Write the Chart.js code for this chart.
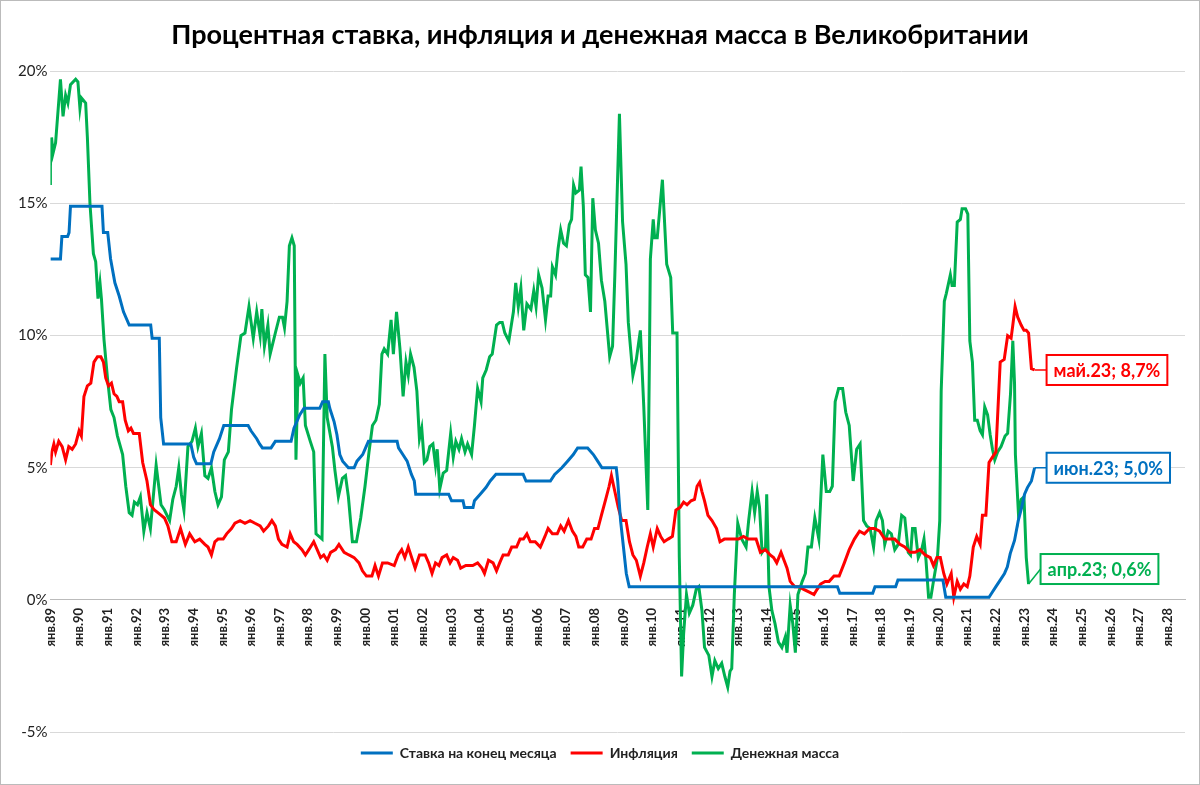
<!DOCTYPE html>
<html><head><meta charset="utf-8">
<script src="https://cdn.jsdelivr.net/npm/chart.js@4/dist/chart.umd.min.js"></script>
<style>html,body{margin:0;padding:0;background:#fff}#wrap{width:1200px;height:785px;box-sizing:border-box;border:1px solid #bbb}</style>
</head><body><div id="wrap"><canvas id="c" width="1198" height="783"></canvas></div>
<script>
const TITLE = 'Процентная ставка, инфляция и денежная масса в Великобритании';
const SERIES_NAMES = ['Ставка на конец месяца', 'Инфляция', 'Денежная масса'];
const END_LABELS = ['июн.23; 5,0%', 'май.23; 8,7%', 'апр.23; 0,6%'];
const TICK_YEARS = [];
for (let y = 1989; y <= 2028; y++) TICK_YEARS.push(y);

// Bank rate [year, %]
const ratePts = [[1989.0,12.9],[1989.35,12.9],[1989.4,13.75],[1989.6,13.75],[1989.65,13.9],[1989.7,14.9],[1990.8,14.9],[1990.85,13.9],[1991.0,13.9],[1991.1,12.9],[1991.25,12.0],[1991.4,11.5],[1991.55,10.9],[1991.75,10.4],[1992.5,10.4],[1992.55,9.9],[1992.8,9.9],[1992.85,6.9],[1992.95,5.9],[1993.9,5.9],[1994.0,5.4],[1994.1,5.15],[1994.6,5.15],[1994.7,5.6],[1994.9,6.1],[1995.05,6.6],[1995.9,6.6],[1996.0,6.4],[1996.2,6.1],[1996.3,5.9],[1996.4,5.75],[1996.7,5.75],[1996.85,6.0],[1997.4,6.0],[1997.5,6.5],[1997.7,7.0],[1997.85,7.25],[1998.4,7.25],[1998.5,7.5],[1998.7,7.5],[1998.75,7.25],[1998.9,6.75],[1999.0,6.25],[1999.1,5.5],[1999.2,5.25],[1999.4,5.0],[1999.6,5.0],[1999.7,5.25],[1999.9,5.5],[2000.0,5.75],[2000.1,6.0],[2001.1,6.0],[2001.15,5.75],[2001.3,5.5],[2001.45,5.25],[2001.6,4.75],[2001.7,4.5],[2001.75,4.0],[2002.9,4.0],[2003.0,3.75],[2003.4,3.75],[2003.45,3.5],[2003.75,3.5],[2003.8,3.75],[2004.0,4.0],[2004.2,4.25],[2004.35,4.5],[2004.55,4.75],[2005.5,4.75],[2005.6,4.5],[2006.45,4.5],[2006.6,4.75],[2006.85,5.0],[2007.05,5.25],[2007.25,5.5],[2007.4,5.75],[2007.75,5.75],[2007.95,5.5],[2008.1,5.25],[2008.25,5.0],[2008.75,5.0],[2008.8,4.5],[2008.9,3.0],[2009.0,2.0],[2009.1,1.0],[2009.2,0.5],[2016.47,0.5],[2016.55,0.25],[2017.7,0.25],[2017.78,0.5],[2018.5,0.5],[2018.58,0.75],[2020.15,0.75],[2020.25,0.1],[2021.76,0.1],[2021.85,0.25],[2022.0,0.5],[2022.15,0.75],[2022.3,1.0],[2022.4,1.25],[2022.5,1.75],[2022.65,2.25],[2022.78,3.0],[2022.9,3.5],[2023.0,4.0],[2023.1,4.25],[2023.24,4.5],[2023.35,5.0]];

// CPI inflation [year, %]
const inflPts = [[1989.0,5.1],[1989.05,5.6],[1989.12,5.9],[1989.18,5.6],[1989.29,6.0],[1989.41,5.8],[1989.53,5.3],[1989.64,5.8],[1989.76,5.7],[1989.88,5.9],[1990.0,6.4],[1990.08,6.2],[1990.17,7.7],[1990.29,8.1],[1990.41,8.2],[1990.52,9.0],[1990.64,9.2],[1990.76,9.2],[1990.85,9.0],[1990.93,8.4],[1991.03,8.1],[1991.13,8.2],[1991.22,7.8],[1991.32,7.7],[1991.40,7.5],[1991.52,7.5],[1991.61,6.8],[1991.72,6.4],[1991.81,6.5],[1991.90,6.3],[1992.10,6.3],[1992.22,5.2],[1992.37,4.5],[1992.49,3.6],[1992.63,3.4],[1992.75,3.3],[1992.98,3.1],[1993.10,2.8],[1993.24,2.2],[1993.39,2.2],[1993.54,2.7],[1993.71,2.1],[1993.86,2.5],[1994.04,2.2],[1994.21,2.3],[1994.39,2.1],[1994.50,2.0],[1994.62,1.7],[1994.74,2.2],[1994.85,2.3],[1995.03,2.3],[1995.15,2.5],[1995.32,2.7],[1995.44,2.9],[1995.62,3.0],[1995.79,2.9],[1995.97,3.0],[1996.14,2.9],[1996.32,2.8],[1996.44,2.6],[1996.61,2.8],[1996.73,3.0],[1996.85,2.8],[1996.96,2.3],[1997.08,2.1],[1997.26,2.0],[1997.37,2.5],[1997.49,2.2],[1997.61,2.1],[1997.78,1.9],[1997.90,1.7],[1998.02,1.9],[1998.19,2.2],[1998.31,1.9],[1998.43,1.6],[1998.54,1.7],[1998.66,1.5],[1998.78,1.8],[1998.95,1.9],[1999.07,2.1],[1999.25,1.8],[1999.42,1.7],[1999.60,1.6],[1999.77,1.4],[1999.89,1.1],[2000.03,0.9],[2000.22,0.9],[2000.33,1.3],[2000.45,0.9],[2000.59,1.4],[2000.77,1.4],[2001.0,1.3],[2001.14,1.7],[2001.26,1.9],[2001.37,1.6],[2001.49,2.0],[2001.61,1.6],[2001.73,1.2],[2001.88,1.7],[2002.08,1.7],[2002.20,1.4],[2002.32,1.0],[2002.44,1.4],[2002.56,1.3],[2002.67,1.6],[2002.83,1.7],[2002.95,1.4],[2003.06,1.6],[2003.21,1.5],[2003.32,1.2],[2003.50,1.3],[2003.74,1.3],[2003.91,1.4],[2004.06,1.2],[2004.15,1.0],[2004.29,1.5],[2004.45,1.4],[2004.57,1.1],[2004.68,1.4],[2004.80,1.7],[2004.98,1.7],[2005.10,2.0],[2005.27,2.0],[2005.39,2.3],[2005.51,2.3],[2005.63,2.5],[2005.75,2.2],[2005.92,2.2],[2006.10,2.0],[2006.26,2.4],[2006.37,2.7],[2006.52,2.5],[2006.69,2.5],[2006.81,2.8],[2006.93,2.6],[2007.08,3.0],[2007.22,2.6],[2007.34,2.4],[2007.44,2.0],[2007.58,2.0],[2007.72,2.3],[2007.87,2.3],[2007.99,2.7],[2008.11,2.7],[2008.23,3.2],[2008.38,3.8],[2008.50,4.3],[2008.58,4.7],[2008.70,4.1],[2008.82,3.5],[2008.94,3.0],[2009.09,3.0],[2009.21,2.2],[2009.33,1.7],[2009.45,1.5],[2009.59,0.9],[2009.71,1.4],[2009.83,2.0],[2009.94,2.5],[2010.04,2.0],[2010.18,2.7],[2010.30,2.4],[2010.42,2.2],[2010.56,2.3],[2010.71,2.4],[2010.83,3.4],[2010.98,3.5],[2011.10,3.7],[2011.22,3.6],[2011.36,3.75],[2011.48,3.8],[2011.57,4.3],[2011.66,4.45],[2011.74,4.1],[2011.83,3.75],[2011.95,3.2],[2012.09,3.0],[2012.25,2.7],[2012.37,2.2],[2012.52,2.3],[2012.66,2.3],[2012.84,2.3],[2013.02,2.3],[2013.19,2.4],[2013.35,2.3],[2013.49,2.3],[2013.63,2.3],[2013.78,1.8],[2013.96,1.9],[2014.12,1.7],[2014.24,1.6],[2014.35,1.4],[2014.50,1.8],[2014.71,1.2],[2014.82,0.7],[2014.98,0.5],[2015.12,0.5],[2015.29,0.4],[2015.47,0.3],[2015.65,0.2],[2015.76,0.4],[2015.88,0.6],[2016.04,0.7],[2016.18,0.7],[2016.35,0.9],[2016.53,0.9],[2016.71,1.4],[2016.88,1.9],[2017.06,2.3],[2017.24,2.6],[2017.41,2.5],[2017.59,2.7],[2017.76,2.7],[2017.94,2.6],[2018.12,2.3],[2018.29,2.3],[2018.47,2.3],[2018.65,2.1],[2018.82,2.0],[2019.0,1.8],[2019.18,1.8],[2019.35,1.9],[2019.53,1.7],[2019.71,1.6],[2019.82,1.3],[2019.94,1.6],[2020.06,1.6],[2020.18,1.0],[2020.29,0.6],[2020.44,1.0],[2020.53,0.1],[2020.65,0.7],[2020.76,0.4],[2020.88,0.6],[2021.0,0.5],[2021.09,0.9],[2021.21,2.0],[2021.33,2.4],[2021.45,2.1],[2021.53,3.2],[2021.65,3.2],[2021.76,5.2],[2021.88,5.4],[2022.0,5.6],[2022.15,9.0],[2022.29,9.1],[2022.41,10.0],[2022.53,9.9],[2022.59,10.4],[2022.67,11.1],[2022.76,10.7],[2022.88,10.4],[2022.98,10.2],[2023.06,10.2],[2023.14,10.1],[2023.24,8.75],[2023.35,8.7]];

// Money supply growth [year, %]
const moneyPts = [[1989.0,15.7],[1989.0,16.4],[1989.04,17.5],[1989.09,16.9],[1989.18,17.3],[1989.35,19.7],[1989.44,18.3],[1989.53,19.1],[1989.61,18.8],[1989.70,19.5],[1989.88,19.7],[1989.96,19.6],[1990.03,18.6],[1990.08,19.0],[1990.23,18.8],[1990.29,17.5],[1990.38,15.0],[1990.50,13.1],[1990.58,12.8],[1990.66,11.4],[1990.73,12.0],[1990.78,11.4],[1990.87,9.85],[1990.99,8.4],[1991.11,7.2],[1991.22,6.9],[1991.34,6.2],[1991.52,5.5],[1991.63,4.3],[1991.75,3.3],[1991.85,3.2],[1991.93,3.7],[1992.04,3.6],[1992.14,3.9],[1992.26,2.6],[1992.37,3.3],[1992.49,2.7],[1992.69,5.1],[1992.86,3.6],[1992.98,3.4],[1993.16,3.0],[1993.27,3.8],[1993.39,4.3],[1993.48,5.0],[1993.57,4.0],[1993.66,3.4],[1993.80,5.8],[1993.94,6.0],[1994.06,6.5],[1994.15,5.8],[1994.27,6.3],[1994.39,4.7],[1994.50,4.6],[1994.62,5.0],[1994.74,4.1],[1994.85,3.6],[1994.97,3.9],[1995.07,5.3],[1995.21,5.6],[1995.32,7.2],[1995.50,8.8],[1995.65,10.0],[1995.79,10.1],[1995.93,11.1],[1996.08,9.9],[1996.20,10.9],[1996.32,10.0],[1996.38,11.0],[1996.47,9.6],[1996.59,10.4],[1996.67,9.3],[1996.85,10.1],[1996.99,10.7],[1997.10,10.7],[1997.17,10.3],[1997.26,11.3],[1997.34,13.4],[1997.43,13.7],[1997.51,13.4],[1997.57,5.3],[1997.64,8.5],[1997.72,8.2],[1997.82,8.4],[1997.90,6.6],[1998.07,6.0],[1998.19,5.6],[1998.27,2.5],[1998.48,2.3],[1998.58,9.3],[1998.66,6.9],[1998.84,5.8],[1998.93,4.9],[1999.05,3.9],[1999.19,4.6],[1999.30,4.7],[1999.40,3.9],[1999.54,2.2],[1999.68,2.2],[1999.83,3.1],[1999.98,4.3],[2000.12,5.6],[2000.24,6.6],[2000.36,6.8],[2000.48,7.4],[2000.57,9.3],[2000.65,9.5],[2000.77,9.3],[2000.89,10.6],[2000.97,9.3],[2001.08,10.9],[2001.20,9.5],[2001.31,7.7],[2001.41,9.0],[2001.49,8.5],[2001.57,9.3],[2001.69,8.8],[2001.79,7.9],[2001.88,6.1],[2001.96,6.5],[2002.05,5.2],[2002.14,5.3],[2002.24,5.8],[2002.35,5.9],[2002.44,5.1],[2002.50,5.7],[2002.59,4.2],[2002.71,4.8],[2002.83,4.9],[2002.97,6.3],[2003.06,5.4],[2003.15,6.0],[2003.26,5.7],[2003.35,6.1],[2003.47,5.6],[2003.56,5.9],[2003.70,5.5],[2003.80,6.6],[2003.91,8.0],[2004.03,7.5],[2004.09,8.4],[2004.21,8.7],[2004.33,9.2],[2004.42,9.3],[2004.57,10.4],[2004.68,10.5],[2004.77,10.5],[2004.86,10.1],[2005.00,9.8],[2005.16,10.9],[2005.24,12.0],[2005.33,11.1],[2005.42,11.8],[2005.52,10.2],[2005.63,11.2],[2005.77,11.0],[2005.87,11.7],[2005.95,11.1],[2006.04,12.3],[2006.16,11.8],[2006.28,10.6],[2006.37,11.5],[2006.46,11.5],[2006.52,12.6],[2006.63,12.3],[2006.72,13.3],[2006.81,14.0],[2006.91,13.5],[2007.01,13.4],[2007.11,14.2],[2007.19,14.4],[2007.26,15.7],[2007.34,15.4],[2007.46,15.5],[2007.52,16.4],[2007.60,14.9],[2007.67,12.3],[2007.76,12.2],[2007.85,10.9],[2007.93,15.2],[2008.02,14.0],[2008.13,13.5],[2008.23,12.1],[2008.35,11.3],[2008.52,9.2],[2008.62,9.6],[2008.70,12.3],[2008.86,18.4],[2008.97,14.3],[2009.09,12.7],[2009.17,10.5],[2009.33,8.5],[2009.45,9.1],[2009.59,10.2],[2009.71,7.3],[2009.85,3.4],[2009.91,9.5],[2009.94,12.9],[2010.04,14.4],[2010.09,13.7],[2010.18,13.7],[2010.36,15.9],[2010.51,12.7],[2010.65,12.2],[2010.72,10.1],[2010.87,10.1],[2010.95,1.6],[2011.03,-2.9],[2011.10,-1.3],[2011.20,0.2],[2011.30,-0.5],[2011.42,-0.2],[2011.54,0.4],[2011.63,0.5],[2011.74,-0.4],[2011.83,-1.8],[2011.98,-2.1],[2012.09,-2.9],[2012.19,-2.3],[2012.31,-2.6],[2012.43,-2.4],[2012.54,-2.9],[2012.64,-3.3],[2012.72,-2.7],[2012.78,-2.6],[2012.87,0.2],[2012.99,2.9],[2013.13,2.3],[2013.28,2.0],[2013.37,3.0],[2013.49,4.1],[2013.58,3.3],[2013.67,4.1],[2013.75,3.5],[2013.84,1.8],[2013.96,2.0],[2014.0,4.0],[2014.08,0.5],[2014.18,-0.4],[2014.29,-0.9],[2014.41,-1.6],[2014.53,-1.8],[2014.65,-1.4],[2014.71,-2.0],[2014.82,-0.2],[2014.91,-0.9],[2015.0,-2.0],[2015.09,0.2],[2015.24,0.7],[2015.35,1.0],[2015.44,2.0],[2015.56,2.0],[2015.68,3.1],[2015.82,2.3],[2015.96,5.5],[2016.08,4.1],[2016.20,4.1],[2016.29,4.3],[2016.39,7.5],[2016.51,8.0],[2016.65,8.0],[2016.76,7.1],[2016.88,6.6],[2017.02,4.5],[2017.14,5.7],[2017.26,5.9],[2017.38,3.0],[2017.49,2.8],[2017.61,2.7],[2017.73,2.0],[2017.82,3.0],[2017.94,3.3],[2018.04,3.0],[2018.12,2.1],[2018.24,2.6],[2018.35,2.5],[2018.47,1.9],[2018.59,2.1],[2018.71,3.2],[2018.82,3.1],[2018.94,1.8],[2019.02,1.7],[2019.09,2.7],[2019.18,2.7],[2019.29,1.6],[2019.41,1.9],[2019.49,2.3],[2019.56,1.5],[2019.65,0.1],[2019.73,0.1],[2019.82,0.7],[2019.96,1.6],[2020.04,3.0],[2020.09,7.9],[2020.20,11.3],[2020.27,11.6],[2020.41,12.3],[2020.47,11.9],[2020.55,11.9],[2020.65,14.3],[2020.76,14.4],[2020.82,14.8],[2020.94,14.8],[2021.02,14.6],[2021.09,9.8],[2021.18,9.0],[2021.26,6.8],[2021.35,6.8],[2021.45,6.4],[2021.53,6.25],[2021.61,7.3],[2021.71,7.0],[2021.80,6.25],[2021.88,5.7],[2021.96,5.3],[2022.06,5.6],[2022.18,5.8],[2022.32,6.2],[2022.41,6.3],[2022.51,7.8],[2022.59,9.8],[2022.65,8.2],[2022.68,5.5],[2022.79,3.2],[2022.88,3.8],[2022.98,3.9],[2023.06,1.6],[2023.14,0.6]];

const COLORS = ['#0070C0', '#FF0000', '#00B050'];
const toXY = pts => pts.map(p => ({x: p[0], y: p[1]}));

const endLabels = {
  id: 'endLabels',
  afterDatasetsDraw(chart) {
    const ctx = chart.ctx;
    const dy = [0, 0, -15];
    chart.data.datasets.forEach((ds, i) => {
      const meta = chart.getDatasetMeta(i);
      const pt = meta.data[meta.data.length - 1];
      const bx = pt.x + 12, by = pt.y + dy[i];
      ctx.save();
      ctx.font = 'bold 18px Lato';
      const w = ctx.measureText(END_LABELS[i]).width + 14, h = 30;
      ctx.strokeStyle = COLORS[i]; ctx.lineWidth = 1.5;
      ctx.beginPath(); ctx.moveTo(pt.x, pt.y); ctx.lineTo(bx, by); ctx.stroke();
      ctx.fillStyle = '#fff';
      ctx.fillRect(bx, by - h/2, w, h);
      ctx.lineWidth = 2;
      ctx.strokeRect(bx, by - h/2, w, h);
      ctx.fillStyle = COLORS[i];
      ctx.textBaseline = 'middle';
      ctx.fillText(END_LABELS[i], bx + 7, by + 1);
      ctx.restore();
    });
  }
};

new Chart(document.getElementById('c'), {
  type: 'line',
  data: {
    datasets: [ratePts, inflPts, moneyPts].map((pts, i) => ({
      label: SERIES_NAMES[i], data: toXY(pts), borderColor: COLORS[i], backgroundColor: COLORS[i],
      borderWidth: 3, pointRadius: 0, pointStyle: 'line', tension: 0
    }))
  },
  options: {
    responsive: false, animation: false,
    layout: {padding: {left: 14, right: 14, top: 4, bottom: 14}},
    plugins: {
      title: {display: true, text: TITLE, color: '#000', font: {family: 'Lato', size: 27, weight: 'bold'}, padding: {top: 14, bottom: 20}},
      legend: {position: 'bottom', labels: {usePointStyle: true, pointStyleWidth: 32, color: '#222', font: {family: 'Lato', size: 14, weight: 'bold'}, padding: 14}},
      tooltip: {enabled: false}
    },
    scales: {
      x: {
        type: 'linear', min: 1989, max: 2028.6, position: {y: 0},
        afterBuildTicks: ax => { ax.ticks = TICK_YEARS.map(v => ({value: v})); },
        ticks: {minRotation: 90, maxRotation: 90, autoSkip: false, color: '#222', font: {family: 'Lato', size: 13, weight: 'bold'},
          callback: v => 'янв.' + String(v % 100).padStart(2, '0')},
        grid: {display: false, drawTicks: true, tickLength: 5, color: '#bbb'},
        border: {color: '#bbb'}
      },
      y: {
        min: -5, max: 20,
        ticks: {stepSize: 5, color: '#222', font: {family: 'Lato', size: 15}, callback: v => v + '%'},
        grid: {color: '#d9d9d9', drawTicks: false}, border: {display: false}
      }
    }
  },
  plugins: [endLabels]
});
</script></body></html>
